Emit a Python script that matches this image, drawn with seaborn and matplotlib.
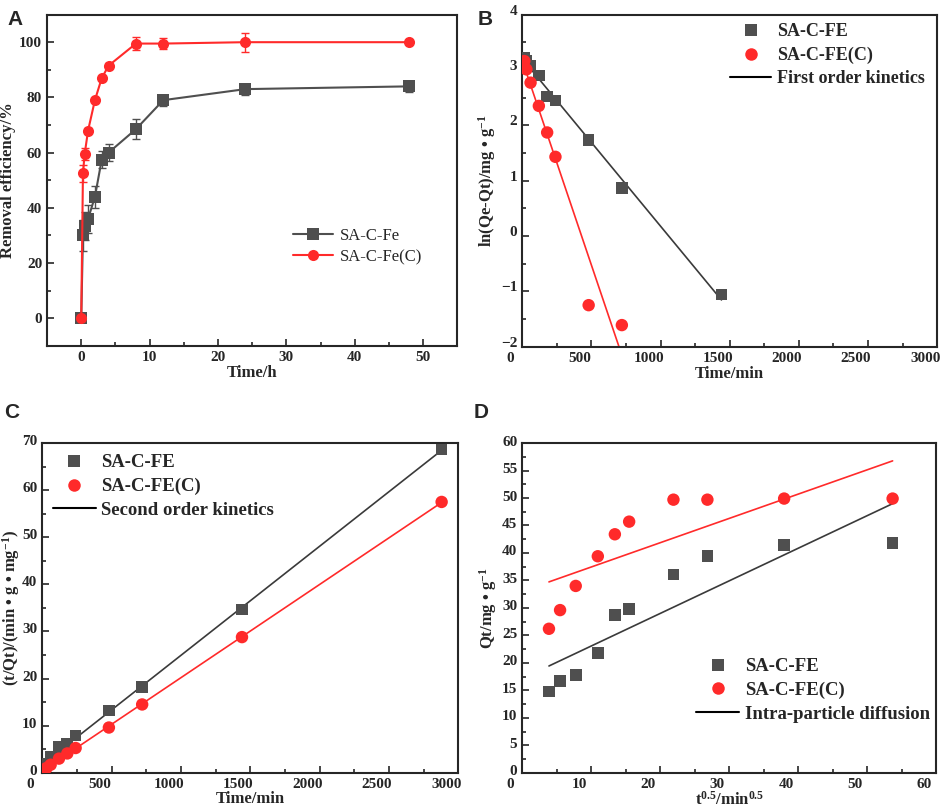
import numpy as np
import pandas as pd
import matplotlib
matplotlib.use("Agg")
import matplotlib.pyplot as plt
import matplotlib.transforms as mtrans
from matplotlib.lines import Line2D
from matplotlib.ticker import MultipleLocator
import seaborn as sns

# ---- panel A: removal efficiency vs time (h)
time_h = [0, 0.25, 0.5, 1, 2, 3, 4, 8, 12, 24, 48]
eff_fe = [0, 30, 33.5, 36, 44, 57.5, 60, 68.5, 79, 83, 84]
err_fe = [0, 5.5, 5, 5, 4, 3.2, 3, 3.5, 2, 2, 2]
eff_fec = [0, 52.5, 59.5, 68, 79, 87, 91.5, 99.5, 99.5, 100, 100]
err_fec = [0, 3, 2, 0.8, 0.8, 0.8, 1, 2.5, 2, 3.5, 0.5]

# ---- kinetics (time in min)
time_min = [15, 30, 60, 120, 180, 240, 480, 720, 1440, 2880]
# panel B: ln(Qe-Qt)
ln_fe = [3.22, 3.17, 3.08, 2.90, 2.52, 2.45, 1.73, 0.87, -1.06]
ln_fec = [3.16, 3.01, 2.77, 2.35, 1.87, 1.43, -1.25, -1.61]
# panel C: t/Qt
tq_fe = [1.05, 1.9, 3.3, 5.5, 6.2, 7.9, 13.2, 18.2, 34.7, 68.6]
tq_fec = [0.57, 1.0, 1.7, 3.0, 4.1, 5.25, 9.6, 14.5, 28.8, 57.5]
# panel D: Qt vs t^0.5
sqrt_t = [3.87, 5.48, 7.75, 10.95, 13.42, 15.49, 21.91, 26.83, 37.95, 53.67]
qt_fe = [14.8, 16.7, 17.8, 21.8, 28.7, 29.8, 36.1, 39.4, 41.5, 41.8]
qt_fec = [26.2, 29.6, 34.0, 39.4, 43.4, 45.7, 49.7, 49.7, 49.9, 49.9]

GRAY = "#4f4f4f"
GRAY_LINE = "#3a3a3a"
RED = "#ff2a2a"

sns.set_style("ticks")
plt.rcParams["font.family"] = ["Liberation Serif", "DejaVu Serif"]
plt.rcParams["font.weight"] = "bold"
plt.rcParams["mathtext.fontset"] = "custom"
plt.rcParams["mathtext.rm"] = "Liberation Serif:bold"
plt.rcParams["mathtext.bf"] = "Liberation Serif:bold"
plt.rcParams["mathtext.it"] = "Liberation Serif:bold"
plt.rcParams["mathtext.default"] = "bf"
plt.rcParams["axes.linewidth"] = 1.5

fig = plt.figure(figsize=(9.41, 8.10), dpi=100)
axA = fig.add_axes([0.050, 0.573, 0.436, 0.409])
axB = fig.add_axes([0.555, 0.572, 0.441, 0.410])
axC = fig.add_axes([0.045, 0.046, 0.442, 0.407])
axD = fig.add_axes([0.555, 0.046, 0.440, 0.407])


def style(ax, xmaj, xmin, ymaj, ymin, dx=0.0, dy=0.0):
    ax.xaxis.set_major_locator(MultipleLocator(xmaj))
    ax.xaxis.set_minor_locator(MultipleLocator(xmin))
    ax.yaxis.set_major_locator(MultipleLocator(ymaj))
    ax.yaxis.set_minor_locator(MultipleLocator(ymin))
    ax.tick_params(which="both", direction="in", width=1.2, labelsize=11)
    ax.tick_params(which="major", length=5)
    ax.tick_params(which="minor", length=3)
    for lab in ax.get_xticklabels() + ax.get_yticklabels():
        lab.set_fontweight("bold")
    # in the original the tick labels sit slightly off their ticks
    if dx:
        off = mtrans.ScaledTranslation(dx, 0, fig.dpi_scale_trans)
        for lab in ax.get_xticklabels():
            lab.set_transform(lab.get_transform() + off)
    if dy:
        off = mtrans.ScaledTranslation(0, dy, fig.dpi_scale_trans)
        for lab in ax.get_yticklabels():
            lab.set_transform(lab.get_transform() + off)
    for s in ax.spines.values():
        s.set_visible(True)
        s.set_linewidth(1.5)


# ---- A
dfA = pd.DataFrame({"t": time_h * 2,
                    "eff": eff_fe + eff_fec,
                    "s": ["SA-C-Fe"] * len(time_h) + ["SA-C-Fe(C)"] * len(time_h)})
axA.errorbar(time_h, eff_fe, yerr=err_fe, fmt="none", ecolor=GRAY, capsize=3, lw=1, zorder=2)
axA.errorbar(time_h, eff_fec, yerr=err_fec, fmt="none", ecolor=RED, capsize=3, lw=1, zorder=2)
sns.lineplot(data=dfA, x="t", y="eff", hue="s", style="s",
             palette={"SA-C-Fe": GRAY, "SA-C-Fe(C)": RED},
             markers={"SA-C-Fe": "s", "SA-C-Fe(C)": "o"}, dashes=False,
             markersize=8, markeredgewidth=0, lw=1.5, ax=axA, legend=False, zorder=3)
axA.set_xlim(-5, 55)
axA.set_ylim(-10, 110)
style(axA, 10, 5, 20, 10)
axA.set_xlabel("Time/h", fontsize=12, fontweight="bold", labelpad=1)
axA.set_ylabel("Removal efficiency/%", fontsize=12, fontweight="bold", labelpad=2)
hA = [Line2D([], [], color=GRAY, marker="s", ms=8, mew=0, lw=1.5),
      Line2D([], [], color=RED, marker="o", ms=8, mew=0, lw=1.5)]
axA.legend(hA, ["SA-C-Fe", "SA-C-Fe(C)"], loc="center left", bbox_to_anchor=(0.6, 0.3),
           frameon=False, prop={"size": 12, "weight": "normal"}, handlelength=2.4,
           handletextpad=0.4, labelspacing=0.3, borderaxespad=0, borderpad=0)


def kinetic(ax, x_fe, y_fe, x_fec, y_fec, fit_label):
    sns.scatterplot(x=x_fe, y=y_fe, marker="s", s=70, color=GRAY, edgecolor="none", ax=ax, zorder=3)
    sns.scatterplot(x=x_fec, y=y_fec, marker="o", s=80, color=RED, edgecolor="none", ax=ax, zorder=3)
    sns.regplot(x=np.array(x_fe), y=np.array(y_fe), scatter=False, ci=None, truncate=True,
                line_kws={"color": GRAY_LINE, "lw": 1.2}, ax=ax)
    sns.regplot(x=np.array(x_fec), y=np.array(y_fec), scatter=False, ci=None, truncate=True,
                line_kws={"color": RED, "lw": 1.2}, ax=ax)
    h = [Line2D([], [], color=GRAY, marker="s", ms=8, mew=0, lw=0),
         Line2D([], [], color=RED, marker="o", ms=9, mew=0, lw=0),
         Line2D([], [], color="black", lw=1.5)]
    return h, ["SA-C-FE", "SA-C-FE(C)", fit_label]


# ---- B
hB, lB = kinetic(axB, time_min[:9], ln_fe, time_min[:8], ln_fec, "First order kinetics")
axB.set_xlim(0, 3000)
axB.set_ylim(-2, 4)
style(axB, 500, 250, 1, 0.5, dx=-0.12, dy=0.05)
axB.set_xlabel("Time/min", fontsize=12, fontweight="bold", labelpad=1)
axB.set_ylabel(r"ln(Qe-Qt)/mg • g$^{-1}$", fontsize=12, fontweight="bold", labelpad=2)
axB.legend(hB, lB, loc="center left", bbox_to_anchor=(0.5, 0.877), frameon=False,
           prop={"size": 13, "weight": "bold"}, handlelength=2.3, handletextpad=0.3,
           labelspacing=0.35, borderaxespad=0, borderpad=0)

# ---- C
hC, lC = kinetic(axC, time_min, tq_fe, time_min, tq_fec, "Second order kinetics")
axC.set_xlim(0, 3000)
axC.set_ylim(0, 70)
style(axC, 500, 250, 10, 5, dx=-0.12, dy=0.03)
axC.set_xlabel("Time/min", fontsize=12, fontweight="bold", labelpad=0)
axC.set_ylabel(r"(t/Qt)/(min • g • mg$^{-1}$)", fontsize=12, fontweight="bold", labelpad=0)
axC.legend(hC, lC, loc="center left", bbox_to_anchor=(0.025, 0.868), frameon=False,
           prop={"size": 13.5, "weight": "bold"}, handlelength=2.3, handletextpad=0.3,
           labelspacing=0.35, borderaxespad=0, borderpad=0)

# ---- D
hD, lD = kinetic(axD, sqrt_t, qt_fe, sqrt_t, qt_fec, "Intra-particle diffusion")
axD.set_xlim(0, 60)
axD.set_ylim(0, 60)
style(axD, 10, 5, 5, 2.5, dx=-0.12, dy=0.025)
axD.set_xlabel(r"t$^{0.5}$/min$^{0.5}$", fontsize=12, fontweight="bold", labelpad=0)
axD.set_ylabel(r"Qt/mg • g$^{-1}$", fontsize=12, fontweight="bold", labelpad=2)
axD.legend(hD, lD, loc="center left", bbox_to_anchor=(0.42, 0.25), frameon=False,
           prop={"size": 13.5, "weight": "bold"}, handlelength=2.3, handletextpad=0.3,
           labelspacing=0.35, borderaxespad=0, borderpad=0)

# panel letters
for lab, x, y in [("A", 0.008, 0.988), ("B", 0.508, 0.988), ("C", 0.004, 0.503), ("D", 0.503, 0.503)]:
    fig.text(x, y, lab, fontsize=15, fontweight="bold", family=["Liberation Sans", "DejaVu Sans"],
             va="top", ha="left")

fig.savefig("out.png", dpi=100, facecolor="white")
